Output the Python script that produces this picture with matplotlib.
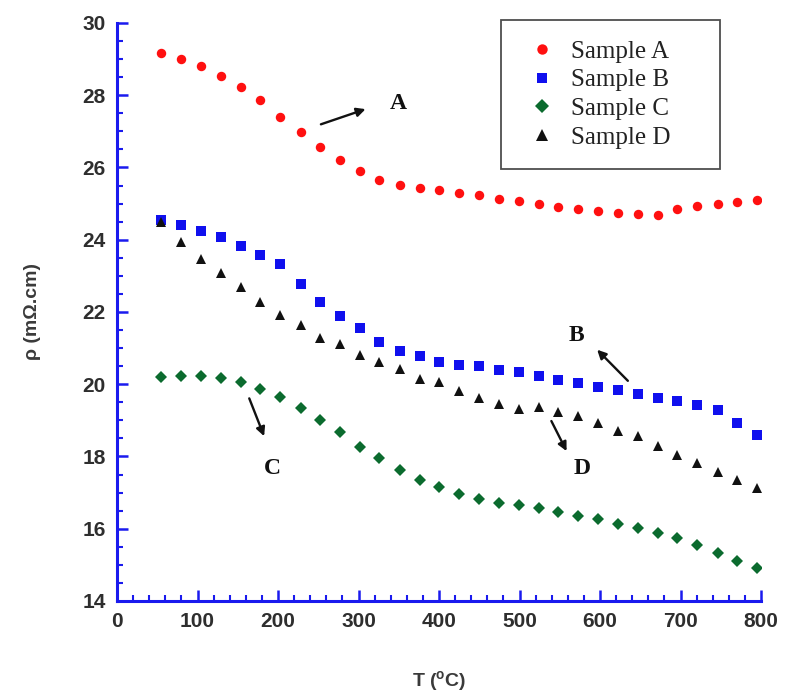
import matplotlib
matplotlib.use("Agg")
import matplotlib.pyplot as plt
from matplotlib.ticker import MultipleLocator

# ---- data ----
temperature = [55, 80, 104, 129, 154, 178, 203, 228, 252, 277, 302, 326, 351, 376,
               400, 425, 450, 474, 499, 524, 548, 573, 598, 622, 647, 672, 696, 721,
               746, 770, 795]
sample_a = [29.16, 28.99, 28.82, 28.54, 28.23, 27.86, 27.40, 26.99, 26.57, 26.20, 25.90,
            25.65, 25.51, 25.42, 25.37, 25.29, 25.25, 25.14, 25.06, 24.98, 24.91, 24.84,
            24.79, 24.74, 24.72, 24.69, 24.86, 24.93, 25.00, 25.04, 25.11]
sample_b = [24.54, 24.40, 24.23, 24.07, 23.82, 23.59, 23.32, 22.78, 22.27, 21.88, 21.56,
            21.18, 20.93, 20.77, 20.61, 20.54, 20.50, 20.40, 20.35, 20.22, 20.13, 20.04,
            19.91, 19.85, 19.73, 19.61, 19.53, 19.43, 19.30, 18.93, 18.59]
sample_c = [20.19, 20.24, 20.24, 20.16, 20.05, 19.87, 19.64, 19.34, 19.01, 18.67, 18.27,
            17.97, 17.63, 17.35, 17.16, 16.97, 16.83, 16.72, 16.66, 16.58, 16.47, 16.36,
            16.27, 16.13, 16.02, 15.89, 15.75, 15.55, 15.33, 15.11, 14.92]
sample_d = [24.50, 23.95, 23.47, 23.08, 22.69, 22.29, 21.92, 21.64, 21.27, 21.10, 20.82,
            20.61, 20.42, 20.15, 20.05, 19.82, 19.62, 19.45, 19.32, 19.38, 19.24, 19.13,
            18.94, 18.71, 18.57, 18.28, 18.05, 17.82, 17.58, 17.35, 17.14]
labels = ["Sample A", "Sample B", "Sample C", "Sample D"]
x_ticks = [0, 100, 200, 300, 400, 500, 600, 700, 800]
y_ticks = [14, 16, 18, 20, 22, 24, 26, 28, 30]

fig = plt.figure(figsize=(7.87, 6.96), dpi=100)
ax = fig.add_axes([0.1487, 0.1365, 0.8183, 0.8305])

ax.plot(temperature, sample_a, linestyle="none", marker="o", markersize=6.8,
        color="#ff1010", markeredgewidth=0, label=labels[0])
ax.plot(temperature, sample_b, linestyle="none", marker="s", markersize=6.8,
        color="#1010ee", markeredgewidth=0, label=labels[1])
ax.plot(temperature, sample_c, linestyle="none", marker="D", markersize=6.2,
        color="#0b6b2e", markeredgewidth=0, label=labels[2])
ax.plot(temperature, sample_d, linestyle="none", marker="^", markersize=7.2,
        color="#111111", markeredgewidth=0, label=labels[3])

ax.set_xlim(0, 800)
ax.set_ylim(14, 30)
ax.set_xticks(x_ticks)
ax.set_yticks(y_ticks)
ax.xaxis.set_minor_locator(MultipleLocator(20))
ax.yaxis.set_minor_locator(MultipleLocator(0.5))

blue = "#1a1aee"
for s in ["top", "right"]:
    ax.spines[s].set_visible(False)
for s in ["left", "bottom"]:
    ax.spines[s].set_color(blue)
    ax.spines[s].set_linewidth(2.2)

ax.tick_params(which="major", direction="in", length=8, width=1.8, color=blue,
               labelsize=15, labelcolor="#2e2e2e", pad=8)
ax.tick_params(which="minor", direction="in", length=4, width=1.5, color=blue)
for lab in ax.get_xticklabels() + ax.get_yticklabels():
    lab.set_fontweight("bold")
    lab.set_family("Liberation Sans")

ax.set_xlabel("T ($\\mathregular{^o}$C)", fontsize=14, fontweight="bold",
              color="#3a3a3a", family="Liberation Sans", labelpad=27)
ax.set_ylabel("ρ (mΩ.cm)", fontsize=14, fontweight="bold",
              color="#3a3a3a", family="Liberation Sans", labelpad=30)

leg = ax.legend(loc="upper left", bbox_to_anchor=(0.596, 0.755, 0.340, 0.25),
                mode="expand", frameon=True, fancybox=False, edgecolor="#222222",
                prop={"family": "Liberation Serif", "size": 18},
                handletextpad=0.31, labelspacing=0.25, borderpad=0.8,
                handlelength=1.7, borderaxespad=0.0, markerscale=1.1)
leg.get_frame().set_linewidth(1.3)
for t in leg.get_texts():
    t.set_color("#222222")

ann_kw = dict(fontsize=17, fontweight="bold", family="Liberation Serif",
              color="#111111", ha="center", va="center")
arrow = dict(arrowstyle="-|>", color="#111111", lw=1.7, mutation_scale=13)
# A
ax.annotate("", xy=(312, 27.64), xytext=(250, 27.17), arrowprops=arrow)
ax.text(349, 27.78, "A", **ann_kw)
# B
ax.annotate("", xy=(594, 21.01), xytext=(637, 20.04), arrowprops=arrow)
ax.text(571, 21.35, "B", **ann_kw)
# C
ax.annotate("", xy=(184, 18.49), xytext=(163, 19.68), arrowprops=arrow)
ax.text(193, 17.66, "C", **ann_kw)
# D
ax.annotate("", xy=(560, 18.08), xytext=(538, 19.05), arrowprops=arrow)
ax.text(578, 17.66, "D", **ann_kw)

fig.savefig("out.png", dpi=100, facecolor="white")
